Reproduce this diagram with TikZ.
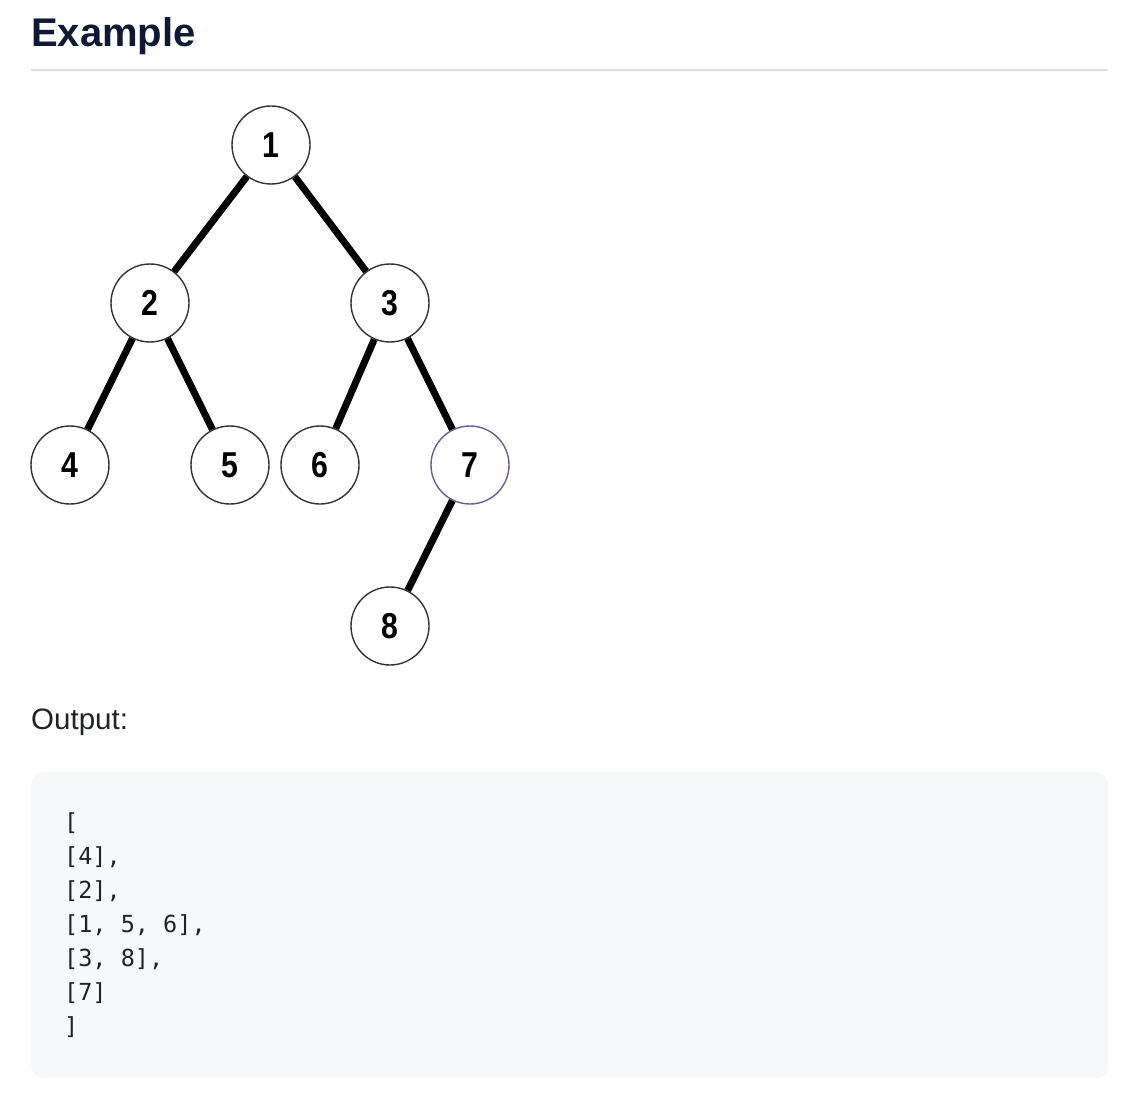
\documentclass[tikz,border=0pt]{standalone}
\usepackage{fontspec}
\setmainfont{Liberation Sans}
\newfontfamily\digitfont[FakeStretch=0.84]{Liberation Sans}
\newfontfamily\codefont{DejaVu Sans Mono}
\definecolor{headcol}{HTML}{0C1A33}
\definecolor{rulecol}{HTML}{D8DEE4}
\definecolor{textcol}{HTML}{1F2328}
\definecolor{codebg}{HTML}{F6F8FA}
\definecolor{ringcol}{HTML}{333333}
\definecolor{markcol}{HTML}{6E5C8E}

\begin{document}
\begin{tikzpicture}[x=1pt,y=-1pt,
                    tree node/.style={circle,draw=ringcol,line width=1.4pt,fill=white,
                                      minimum size=78pt,inner sep=0pt,
                                      font=\digitfont\bfseries\fontsize{36}{36}\selectfont},
                    code line/.style={anchor=base west,inner sep=0pt,text=textcol,
                                      font=\codefont\fontsize{23.5}{23.5}\selectfont}]
  \useasboundingbox (0,0) rectangle (1138,1102);

  % heading
  \node[anchor=base west,inner sep=0pt,text=headcol,
        font=\bfseries\fontsize{40}{40}\selectfont] (title) at (31,47) {Example};
  \draw[rulecol,line width=2pt] (31,70) -- (1108,70);

  % tree
  \node[tree node] (1) at (271,145) {1};
  \node[tree node] (2) at (150,303) {2};
  \node[tree node] (3) at (390,303) {3};
  \node[tree node] (4) at (70,465) {4};
  \node[tree node] (5) at (230,465) {5};
  \node[tree node] (6) at (320,465) {6};
  \node[tree node,draw=markcol] (7) at (470,465) {7};
  \node[tree node] (8) at (390,626) {8};

  \path[every edge/.style={draw,black,line width=7pt}]
    (1) edge (2)
        edge (3)
    (2) edge (4)
        edge (5)
    (3) edge (6)
        edge (7)
    (7) edge (8);

  % output
  \node[anchor=base west,inner sep=0pt,text=textcol,
        font=\fontsize{29.5}{29.5}\selectfont] (out) at (31,729) {Output:};
  \fill[codebg,rounded corners=12pt] (31,772) rectangle (1108,1078);
  \node[code line] (c0) at (64,830) {[};
  \node[code line] (c1) at (64,864) {[4],};
  \node[code line] (c2) at (64,898) {[2],};
  \node[code line] (c3) at (64,932) {[1, 5, 6],};
  \node[code line] (c4) at (64,966) {[3, 8],};
  \node[code line] (c5) at (64,1000) {[7]};
  \node[code line] (c6) at (64,1034) {]};
\end{tikzpicture}
\end{document}
